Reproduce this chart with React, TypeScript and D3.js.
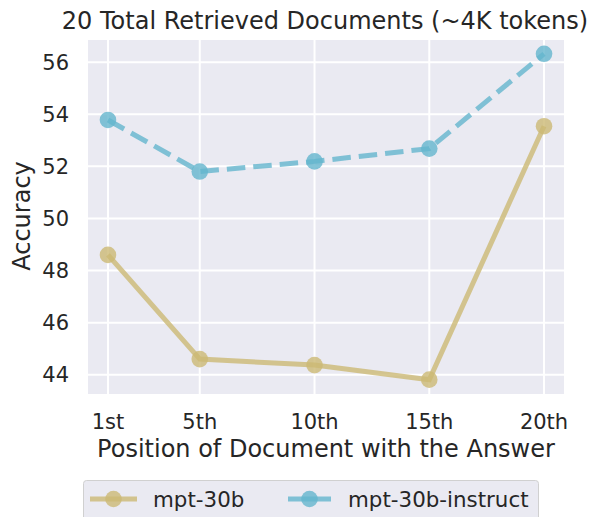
import React, { useEffect, useRef } from 'react';
import * as d3 from 'd3';

const positions = [1, 5, 10, 15, 20];
const tickLabels = ['1st', '5th', '10th', '15th', '20th'];
const yTicks = [44, 46, 48, 50, 52, 54, 56];
const mpt30b = [48.6, 44.6, 44.37, 43.81, 53.54];
const mpt30bInstruct = [53.78, 51.8, 52.19, 52.68, 56.32];

const seriesList = [
  { name: 'mpt-30b', values: mpt30b, color: '#ccb974', dashed: false },
  { name: 'mpt-30b-instruct', values: mpt30bInstruct, color: '#64b5cd', dashed: true },
];

export default function App() {
  const ref = useRef<SVGSVGElement>(null);

  useEffect(() => {
    const svg = d3.select(ref.current);
    svg.selectAll('*').remove();

    const width = 597;
    const height = 517;
    const plot = { left: 88, right: 564, top: 40, bottom: 394 };
    const font = 'DejaVu Sans, sans-serif';
    const textColor = '#262626';

    const x = d3.scaleLinear().domain([0.13, 20.87]).range([plot.left, plot.right]);
    const y = d3.scaleLinear().domain([43.26, 56.85]).range([plot.bottom, plot.top]);

    svg.attr('width', width).attr('height', height);

    svg
      .append('rect')
      .attr('x', plot.left)
      .attr('y', plot.top)
      .attr('width', plot.right - plot.left)
      .attr('height', plot.bottom - plot.top)
      .style('fill', '#eaeaf2');

    // grid
    svg
      .selectAll()
      .data(yTicks)
      .enter()
      .append('line')
      .attr('x1', plot.left)
      .attr('x2', plot.right)
      .attr('y1', (d) => y(d))
      .attr('y2', (d) => y(d))
      .style('stroke', 'white')
      .style('stroke-width', 2);

    svg
      .selectAll()
      .data(positions)
      .enter()
      .append('line')
      .attr('x1', (d) => x(d))
      .attr('x2', (d) => x(d))
      .attr('y1', plot.top)
      .attr('y2', plot.bottom)
      .style('stroke', 'white')
      .style('stroke-width', 2);

    // tick labels
    svg
      .selectAll()
      .data(yTicks)
      .enter()
      .append('text')
      .attr('x', 69)
      .attr('y', (d) => y(d))
      .attr('dy', '0.36em')
      .style('text-anchor', 'end')
      .style('font-family', font)
      .style('font-size', '21px')
      .style('fill', textColor)
      .text((d) => d);

    svg
      .selectAll()
      .data(positions)
      .enter()
      .append('text')
      .attr('x', (d) => x(d))
      .attr('y', 429)
      .style('text-anchor', 'middle')
      .style('font-family', font)
      .style('font-size', '21px')
      .style('fill', textColor)
      .text((d, i) => tickLabels[i]);

    svg
      .append('text')
      .attr('x', 326)
      .attr('y', 457)
      .style('text-anchor', 'middle')
      .style('font-family', font)
      .style('font-size', '24px')
      .style('fill', textColor)
      .text('Position of Document with the Answer');

    svg
      .append('text')
      .attr('transform', 'translate(30,216) rotate(-90)')
      .style('text-anchor', 'middle')
      .style('font-family', font)
      .style('font-size', '24px')
      .style('fill', textColor)
      .text('Accuracy');

    svg
      .append('text')
      .attr('x', 325)
      .attr('y', 29)
      .style('text-anchor', 'middle')
      .style('font-family', font)
      .style('font-size', '24px')
      .style('fill', textColor)
      .text('20 Total Retrieved Documents (~4K tokens)');

    const line = d3
      .line<number>()
      .x((d, i) => x(positions[i]))
      .y((d) => y(d));

    seriesList.forEach((s) => {
      svg
        .append('path')
        .datum(s.values)
        .attr('d', line)
        .style('fill', 'none')
        .style('stroke', s.color)
        .style('stroke-opacity', 0.8)
        .style('stroke-width', 5)
        .style('stroke-dasharray', s.dashed ? '18.5,8' : null);

      svg
        .selectAll()
        .data(s.values)
        .enter()
        .append('circle')
        .attr('cx', (d, i) => x(positions[i]))
        .attr('cy', (d) => y(d))
        .attr('r', 8.3)
        .style('fill', s.color)
        .style('opacity', 0.8);
    });

    // legend
    const legend = svg.append('g');
    legend
      .append('rect')
      .attr('x', 83.5)
      .attr('y', 480.5)
      .attr('width', 455)
      .attr('height', 48)
      .attr('rx', 3)
      .style('fill', '#eaeaf2')
      .style('stroke', '#d0d0d0')
      .style('stroke-width', 1);

    const legendItems = [
      { x0: 90, x1: 137, tx: 153 },
      { x0: 288, x1: 331, tx: 348 },
    ];
    seriesList.forEach((s, i) => {
      const li = legendItems[i];
      legend
        .append('line')
        .attr('x1', li.x0)
        .attr('x2', li.x1)
        .attr('y1', 499)
        .attr('y2', 499)
        .style('stroke', s.color)
        .style('stroke-opacity', 0.8)
        .style('stroke-width', 5);
      legend
        .append('circle')
        .attr('cx', (li.x0 + li.x1) / 2)
        .attr('cy', 499)
        .attr('r', 8.3)
        .style('fill', s.color)
        .style('opacity', 0.8);
      legend
        .append('text')
        .attr('x', li.tx)
        .attr('y', 499)
        .attr('dy', '0.36em')
        .style('font-family', font)
        .style('font-size', '21.4px')
        .style('fill', textColor)
        .text(s.name);
    });
  }, []);

  return (
    <svg
      ref={ref}
      style={{ position: 'absolute', left: 0, top: 0, display: 'block' }}
    ></svg>
  );
}
